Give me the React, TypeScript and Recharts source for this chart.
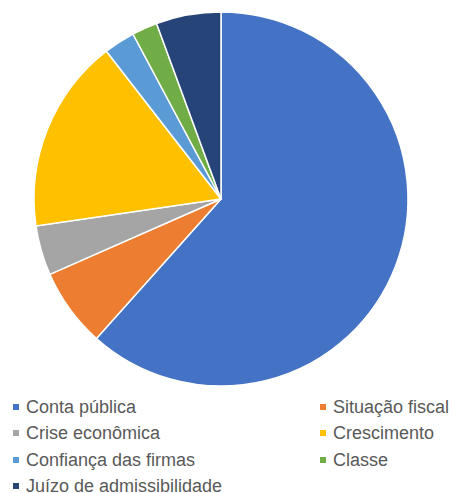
import React from "react";
import { PieChart, Pie, Cell, Legend } from "recharts";

const categories = [
  "Conta pública",
  "Situação fiscal",
  "Crise econômica",
  "Crescimento",
  "Confiança das firmas",
  "Classe",
  "Juízo de admissibilidade",
];
const values = [61.6, 6.8, 4.3, 16.8, 2.7, 2.2, 5.6];
const colors = ["#4472C4", "#ED7D31", "#A5A5A5", "#FFC000", "#5B9BD5", "#70AD47", "#264478"];

const data = categories.map((name, i) => ({ name, value: values[i] }));

const renderLegend = () => {
  return (
    <div
      style={{
        display: "grid",
        gridTemplateColumns: "307px 133px",
        gridAutoRows: "26.3px",
        paddingLeft: 13,
        fontFamily: "'Liberation Sans', Arial, sans-serif",
        fontSize: 18,
        lineHeight: "18px",
        color: "#595959",
      }}
    >
      {categories.map((name, i) => (
        <div key={name} style={{ display: "flex", alignItems: "center", whiteSpace: "nowrap" }}>
          <span
            style={{
              display: "inline-block",
              width: 6,
              height: 6,
              background: colors[i],
              marginRight: 7,
              flex: "none",
            }}
          />
          <span>{name}</span>
        </div>
      ))}
    </div>
  );
};

export default function App() {
  return (
    <div style={{ position: "absolute", left: 0, top: 0, background: "#fff" }}>
      <PieChart width={453} height={493} margin={{ top: 0, right: 0, bottom: 0, left: 0 }}>
        <Pie
          data={data}
          dataKey="value"
          nameKey="name"
          cx={221}
          cy={199}
          outerRadius={187}
          startAngle={90}
          endAngle={-270}
          stroke="#fff"
          strokeWidth={1.5}
          isAnimationActive={false}
        >
          {data.map((d, i) => (
            <Cell key={d.name} fill={colors[i]} />
          ))}
        </Pie>
        <Legend
          content={renderLegend}
          wrapperStyle={{ position: "absolute", top: 394, left: 0, width: 453 }}
        />
      </PieChart>
    </div>
  );
}
